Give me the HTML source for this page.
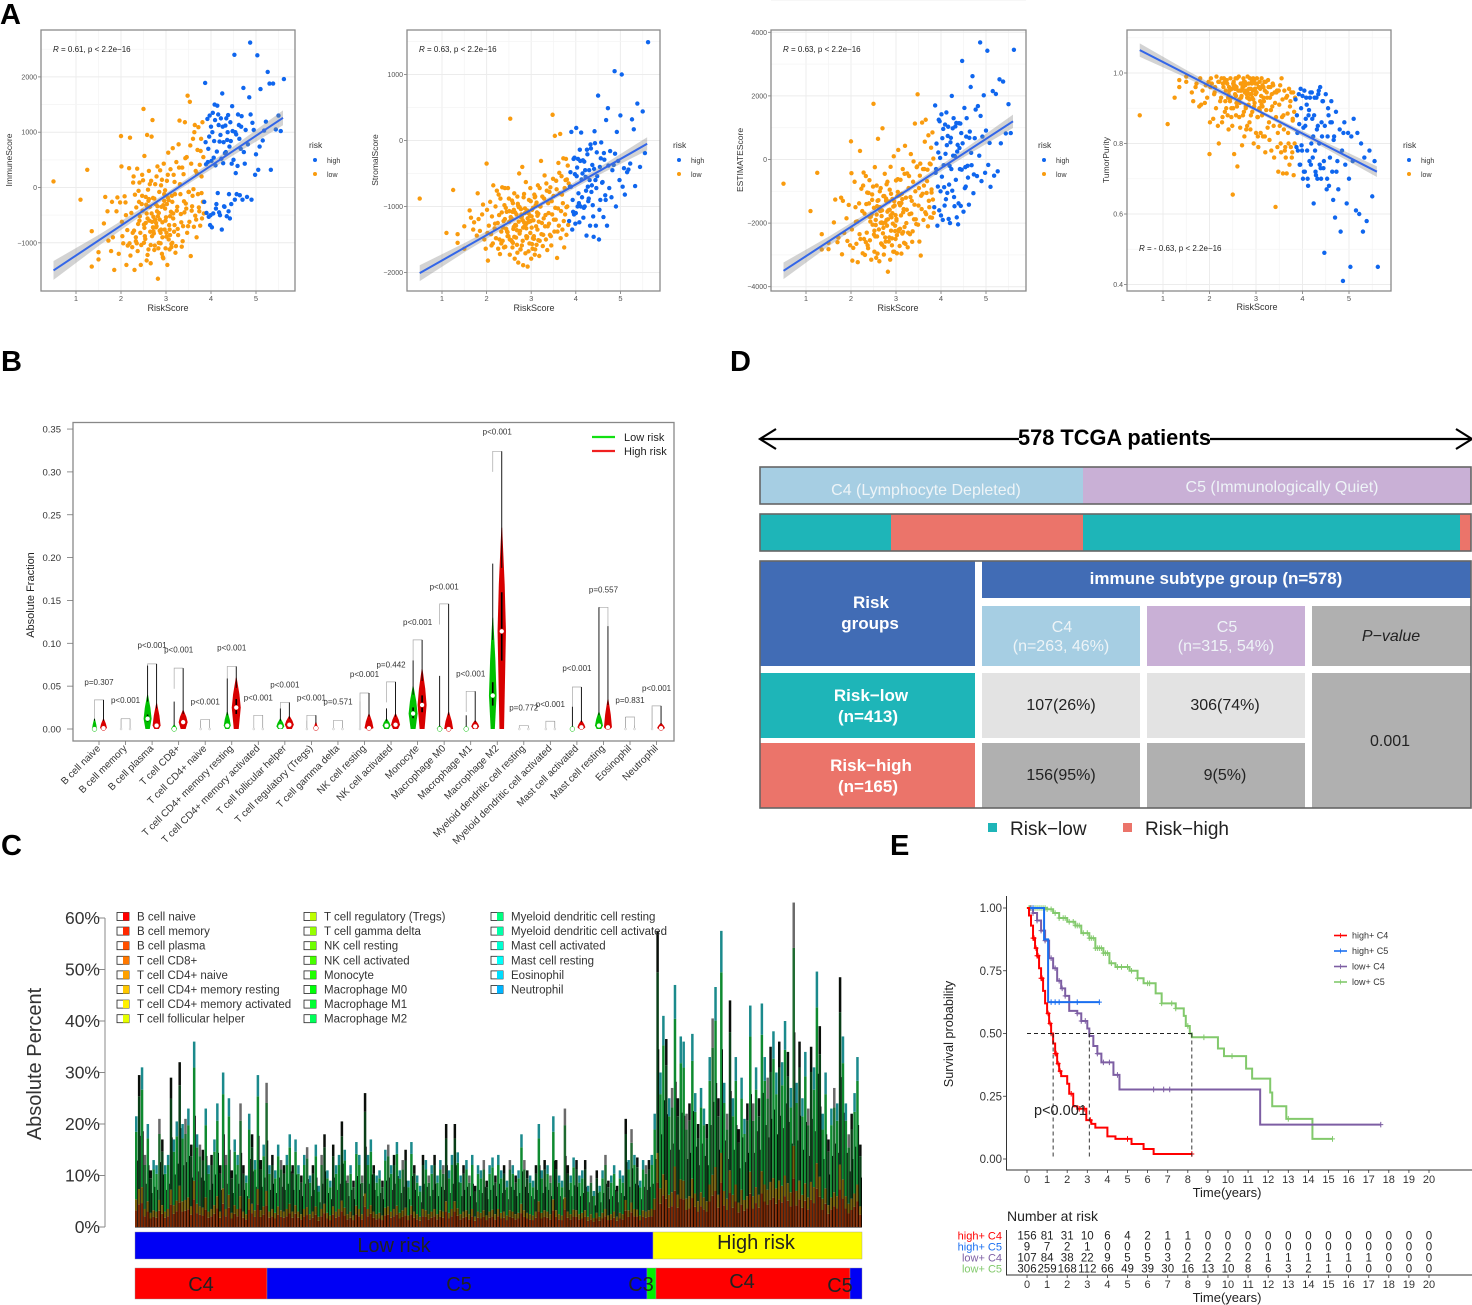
<!DOCTYPE html>
<html lang="en">
<head>
<meta charset="utf-8">
<title>Risk score composite figure</title>
<style>
html,body{margin:0;padding:0;background:#fff;width:1472px;height:1305px;overflow:hidden}
svg{display:block;font-family:"Liberation Sans",sans-serif;filter:blur(.35px)}
.pl{font-weight:bold;font-size:29px;fill:#000}
.w{fill:#eef4f7;text-anchor:middle;font-size:16px}
.wb{fill:#fff;text-anchor:middle;font-size:17px;font-weight:bold}
.d{fill:#222;text-anchor:middle;font-size:16px}
</style>
</head>
<body>
<svg id="figure" xmlns="http://www.w3.org/2000/svg" width="1472" height="1305" viewBox="0 0 1472 1305">
<rect width="1472" height="1305" fill="#fff"/>
<text class="pl" x="0" y="24">A</text>
<text class="pl" x="1" y="371">B</text>
<text class="pl" x="1" y="855">C</text>
<text class="pl" x="730" y="371">D</text>
<text class="pl" x="890" y="855">E</text>

<g id="panelA"></g>
<g id="panelB"></g>
<g id="panelC"></g>

<g id="panelD">
  <line x1="762" y1="439" x2="1019" y2="439" stroke="#000" stroke-width="2.2"/>
  <path d="M776 429 L760 439 L776 449" fill="none" stroke="#000" stroke-width="2.2"/>
  <line x1="1210" y1="439" x2="1470" y2="439" stroke="#000" stroke-width="2.2"/>
  <path d="M1456 429 L1472 439 L1456 449" fill="none" stroke="#000" stroke-width="2.2"/>
  <text x="1114.5" y="445" text-anchor="middle" font-size="21.8" font-weight="bold" fill="#000">578 TCGA patients</text>

  <rect x="760" y="467" width="323" height="37" fill="#a6cee3"/>
  <rect x="1083" y="467" width="388" height="37" fill="#c9b0d6"/>
  <rect x="760" y="467" width="711" height="37" fill="none" stroke="#666" stroke-width="1.6"/>
  <text class="w" x="926" y="495">C4 (Lymphocyte Depleted)</text>
  <text class="w" x="1282" y="492">C5 (Immunologically Quiet)</text>

  <rect x="760" y="514" width="131" height="37" fill="#1eb5b8"/>
  <rect x="891" y="514" width="192" height="37" fill="#eb746a"/>
  <rect x="1083" y="514" width="377" height="37" fill="#1eb5b8"/>
  <rect x="1460" y="514" width="11" height="37" fill="#eb746a"/>
  <rect x="760" y="514" width="711" height="37" fill="none" stroke="#666" stroke-width="1.6"/>

  <rect x="760" y="561" width="215" height="105" fill="#416cb5"/>
  <rect x="982" y="561" width="489" height="37" fill="#416cb5"/>
  <rect x="982" y="606" width="158" height="60" fill="#a6cee3"/>
  <rect x="1147" y="606" width="158" height="60" fill="#c9b0d6"/>
  <rect x="1312" y="606" width="159" height="60" fill="#b0b0b0"/>
  <rect x="760" y="673" width="215" height="65" fill="#1eb5b8"/>
  <rect x="760" y="743" width="215" height="65" fill="#eb746a"/>
  <rect x="982" y="673" width="158" height="65" fill="#e3e3e3"/>
  <rect x="1147" y="673" width="158" height="65" fill="#e3e3e3"/>
  <rect x="982" y="743" width="158" height="65" fill="#b0b0b0"/>
  <rect x="1147" y="743" width="158" height="65" fill="#b0b0b0"/>
  <rect x="1312" y="673" width="159" height="135" fill="#b0b0b0"/>
  <rect x="760" y="561" width="711" height="247" fill="none" stroke="#666" stroke-width="1.6"/>

  <text class="wb" x="871" y="608">Risk</text>
  <text class="wb" x="870" y="629">groups</text>
  <text class="wb" x="1216" y="584" font-size="16.5">immune subtype group (n=578)</text>
  <text class="w" x="1062" y="632">C4</text>
  <text class="w" x="1061" y="651">(n=263, 46%)</text>
  <text class="w" x="1227" y="632">C5</text>
  <text class="w" x="1226" y="651">(n=315, 54%)</text>
  <text class="d" x="1391" y="641" font-style="italic" font-size="15">P−value</text>
  <text class="wb" x="871" y="701">Risk−low</text>
  <text class="wb" x="868" y="722">(n=413)</text>
  <text class="wb" x="871" y="771">Risk−high</text>
  <text class="wb" x="868" y="792">(n=165)</text>
  <text class="d" x="1061" y="710">107(26%)</text>
  <text class="d" x="1225" y="710">306(74%)</text>
  <text class="d" x="1061" y="780">156(95%)</text>
  <text class="d" x="1225" y="780">9(5%)</text>
  <text class="d" x="1390" y="746">0.001</text>

  <rect x="988" y="823" width="9" height="9" fill="#1eb5b8"/>
  <text x="1010" y="835" font-size="19" fill="#222">Risk−low</text>
  <rect x="1123" y="823" width="9" height="9" fill="#eb746a"/>
  <text x="1145" y="835" font-size="19" fill="#222">Risk−high</text>
</g>

<g id="panelE"></g>
</svg>

<script>
/* ---------- Panel A data ---------- */
const riskScore=[0.50,1.10,1.25,1.35,1.35,1.50,1.50,1.62,1.65,1.70,1.72,1.78,1.80,1.82,1.85,1.90,1.92,1.95,1.98,2.00,
2.01,2.03,2.05,2.08,2.10,2.12,2.14,2.15,2.18,2.20,2.21,2.23,2.25,2.26,2.28,2.30,2.31,2.33,2.35,2.36,
2.38,2.40,2.41,2.42,2.44,2.45,2.47,2.48,2.50,2.51,2.52,2.53,2.55,2.56,2.57,2.58,2.60,2.61,2.62,2.63,
2.65,2.66,2.67,2.68,2.70,2.71,2.72,2.73,2.75,2.76,2.77,2.78,2.80,2.81,2.82,2.83,2.85,2.86,2.87,2.88,
2.90,2.91,2.92,2.93,2.95,2.96,2.97,2.98,3.00,3.01,3.02,3.03,3.05,3.06,3.07,3.08,3.10,3.11,3.12,3.13,
3.15,3.16,3.17,3.18,3.20,3.22,3.23,3.25,3.26,3.28,3.30,3.31,3.33,3.35,3.36,3.38,3.40,3.42,3.43,3.45,
3.47,3.48,3.50,3.52,3.53,3.55,3.56,3.58,3.60,3.61,3.62,3.64,3.65,3.66,3.68,3.70,3.71,3.72,3.74,3.75,
3.76,3.78,3.79,3.80,3.81,3.82,3.83,3.84,
3.85,3.87,3.88,3.90,3.92,3.93,3.95,3.96,3.98,4.00,4.01,4.02,4.04,4.05,4.07,4.08,4.10,4.12,4.14,4.15,
4.17,4.19,4.20,4.22,4.24,4.25,4.27,4.28,4.30,4.32,4.33,4.35,4.37,4.38,4.40,4.42,4.44,4.45,4.47,4.50,
4.52,4.54,4.55,4.57,4.60,4.62,4.64,4.66,4.68,4.70,4.72,4.75,4.77,4.80,4.82,4.85,4.87,4.90,4.92,4.95,
4.98,5.00,5.03,5.05,5.08,5.10,5.15,5.18,5.22,5.26,5.30,5.33,5.38,5.44,5.50,5.55,5.62,
2.02,2.11,2.19,2.27,2.29,2.34,2.37,2.39,2.43,2.46,2.49,2.54,2.59,2.59,2.64,2.64,2.69,2.69,2.74,2.74,
2.79,2.79,2.84,2.84,2.89,2.89,2.94,2.94,2.99,2.99,3.04,3.04,3.09,3.09,3.14,3.14,3.19,3.19,3.21,3.24,
3.27,3.29,3.32,3.34,3.37,3.39,3.41,3.44,3.46,3.49,3.51,3.54,3.57,3.59,3.63,3.67,3.69,3.73,3.77,3.79,
2.55,2.62,2.72,2.82,2.92,3.02,3.12,2.68,2.78,2.88,2.98,3.08,2.52,2.58,2.66,2.76,2.86,2.96,3.06,3.16,
2.33,2.41,2.47,2.51,2.57,2.61,2.71,2.81,2.91,3.01,
3.89,3.94,3.97,3.99,4.03,4.06,4.09,4.11,4.13,4.16,4.18,4.21,4.23,4.26,4.29,4.31,4.34,4.36,4.39,4.41,4.43,4.46,4.48,4.53,4.56,4.59,4.63,4.67,4.73,4.88];
const immuneScore=[110,-220,320,-790,-1430,-1170,-1300,-650,-170,-430,-960,-1150,-260,-900,-1490,-430,-180,-1200,-270,930,
380,-880,-1010,-160,-270,-1400,-770,-1050,350,900,-1230,-460,-1080,-820,200,-1490,-130,-970,-1010,340,
-660,-260,90,-520,-1400,-1040,230,-420,1420,-670,570,-880,-170,-310,-1320,950,-40,-1120,300,-600,
-800,-1370,120,920,1220,-190,-530,-830,-1050,60,-300,-720,-430,380,-1650,-1100,-80,-580,310,-820,
-350,140,-630,-1260,430,-240,-760,-50,-540,-890,120,-1400,630,-230,-680,-1120,330,-440,-1020,-150,
710,-560,230,-800,-120,-1060,460,-350,-750,780,1210,60,-480,-1070,360,-700,-250,1180,530,-380,
-820,1660,-80,-620,1550,-1240,430,-340,880,-30,-710,1130,-510,300,-900,680,-120,1090,-430,410,
-690,880,200,-560,1180,-260,550,-470,
-260,1890,820,-460,1240,460,-530,920,-680,1100,480,-720,1350,-470,840,1500,400,-300,1480,-100,
1130,830,-500,1250,-760,1700,440,820,-350,1120,640,-520,1000,1310,-120,-560,840,-300,1470,500,
2400,1000,260,-120,1320,1130,-140,700,1290,-220,1800,430,1040,-170,780,1630,2620,-220,1170,1040,
230,600,2390,320,740,1780,850,1030,1190,2090,1880,320,1880,1050,1300,1020,1960,
-620,-500,-1010,90,-780,-360,-1150,-60,-820,-300,130,-930,-560,-1220,-350,60,-880,-620,-200,-1130,
-700,200,-1000,-460,-760,40,-1280,-320,-600,-1100,-180,230,-860,-520,-1000,-260,100,-680,-1180,-420,
-860,360,-120,-630,-970,240,-450,-290,550,-700,-80,760,-420,-150,1000,-580,250,-360,660,-100,
-640,-210,-790,-520,-900,-300,-1080,-470,-640,-1010,-380,-760,-730,-340,-1040,-580,-780,-120,-940,-470,
-900,-600,-150,-1000,-470,-240,-720,-340,-1200,-820,
420,700,1300,-500,1000,540,1220,-380,650,1320,-450,950,520,1100,-340,620,1250,860,-430,740,1180,430,1020,-220,960,390,880,1100,640,1320];
const stromalScore=[-880,-1400,-750,-1420,-1550,-1640,-1300,-1060,-1170,-1350,-1240,-1440,-800,-1190,-1370,-1120,-970,-1500,-1640,-350,
-1050,-1820,-1290,-930,-1420,-1150,-1560,-680,-1330,-1000,-1480,-760,-1250,-1640,-1130,-1720,-880,-1380,-710,-1520,
-1220,-980,-720,-1610,-1340,-1080,-1450,-720,-880,-1230,-1730,330,-1510,-1180,-910,-1620,-1340,-1050,-800,-1790,
-1280,-1470,-1120,-1580,-960,-1850,-1230,-500,-1370,-1650,-1040,-1170,-400,-1520,-1890,-860,-1300,-1100,-1710,-630,
-1480,-1060,-1910,-1240,-900,-1560,-1140,-720,-1790,-1320,-1050,-1640,-1210,-1450,-820,-1730,-980,-1300,-1580,-1090,
-680,-1510,-1230,-1750,-1000,-310,-1420,-850,-1600,-1180,-530,-1300,-1500,-760,-1660,-950,-1260,-1430,-710,-1590,
-1120,390,-840,-1380,70,-1200,-610,-1780,-1030,-340,-1290,-800,100,-1480,-540,-1350,-950,-270,-1620,-720,
-1120,-280,-1430,-590,-1000,-380,-1280,-650,
-1220,-700,-480,130,-1350,-900,-280,-1120,-510,-1100,190,-540,-1000,-280,-950,-1240,-310,120,-860,-500,
-1170,-320,-1000,-550,-1440,-140,-700,-920,-450,-1290,-60,-780,-370,-980,-1460,140,-600,-1290,-180,680,
-1500,-400,-900,-30,-630,-1160,-290,-830,310,-1290,490,-720,-160,-860,-450,-370,1050,-1000,130,-310,
-600,380,1000,-700,-420,-820,-480,-440,-350,320,170,-690,560,-400,440,-190,1490,
-1400,-1590,-1260,-820,-1500,-1090,-1320,-1620,-1020,-1380,-1450,-1160,-950,-1550,-1090,-1280,-1700,-850,-1010,-1410,
-1150,-1590,-1240,-810,-1450,-1330,-1100,-1680,-920,-1220,-1480,-1020,-850,-1650,-1140,-1350,-720,-1520,-1000,-1250,
-1430,-880,-1130,-650,-1300,-1100,-780,-1450,-920,-580,-1200,-1020,-740,-1380,-490,-1070,-820,-1220,-600,-1010,
-1200,-1460,-1010,-1320,-1180,-1570,-940,-1360,-1120,-1270,-1400,-860,-1500,-1080,-1290,-1650,-1030,-1230,-1490,-1110,
-1560,-1190,-1390,-1070,-1530,-1310,-990,-1210,-1460,-1150,
-700,-1080,-260,-1260,-410,-800,-140,-1000,-590,-300,-1020,-450,-760,-210,-880,-600,-120,-680,-1150,-430,-40,-720,-540,-1050,-270,-640,-190,-900,-380,-200];
const estimateScore=[-760,-1620,-420,-2350,-2830,-2820,-2620,-1980,-1260,-2600,-2460,-1200,-2980,-1300,-2310,-1850,-2560,-1430,-2700,570,
-430,-3180,-2780,-700,-1500,-2650,-1950,-3230,-1380,270,-2500,-920,-1620,-2950,-410,-1700,-3000,-520,-2300,-1040,
-2790,-1380,-650,-2540,-1800,-3150,-1100,-2050,1750,-1520,-2900,-240,-1900,-3090,-820,-2420,650,-1280,-2200,-3200,
-1620,-900,-2640,-1780,980,-2320,-1150,-2990,-450,-1980,-2580,-1300,-2080,-700,-3530,-1600,-2450,-950,-3150,-230,
-1820,-2700,-1240,-2020,100,-2900,-1450,-2250,-660,-1920,-2950,-1150,300,-2260,-1370,-2720,-640,-1760,-2960,-1080,
-300,-2280,-1560,-2620,430,-1200,-2000,-440,-2760,-900,-1720,-2350,170,-1300,-2590,-700,-1880,1130,-1000,-2030,
-220,2050,-1450,-2580,-510,-3020,-1140,1160,-300,-1900,-820,560,-1660,1250,-1050,-320,-2100,760,-1500,-130,
-1820,370,-940,-1830,850,-1260,30,-1680,
-1500,1700,-420,500,-2080,-850,1250,-1600,50,-1760,1420,-540,-1900,960,-870,-1450,180,1480,-1050,740,
-1870,-200,-2000,680,2000,-980,120,1300,-1470,1040,-640,-1820,460,-2040,1140,-300,-1460,830,3100,-1640,
1620,-240,-850,1300,-570,-1420,880,2280,-180,2620,-1060,670,1570,-520,1680,120,3680,-680,720,2020,
-420,910,3420,-170,520,-860,2150,-510,2060,-370,2520,510,2450,820,1740,830,3450,
-2200,-1960,-2350,-820,-2500,-1400,-2700,-1050,-1950,-1720,-850,-2420,-1300,-2960,-1500,-1000,-2680,-1600,-1150,-2750,
-1900,-780,-2580,-1320,-2240,-1080,-2900,-1480,-1750,-2500,-1020,-620,-2180,-1440,-2330,-1250,-450,-2120,-2650,-1580,
-2300,-520,-1180,-1700,-2260,-60,-1420,-1880,-240,-2050,-900,-130,-1560,-1080,-300,-1720,-680,-1300,-150,-1040,
-2060,-1510,-2150,-1880,-1690,-2380,-1370,-1980,-1230,-1760,-2080,-1130,-2240,-1470,-1990,-2450,-1580,-1310,-2210,-1660,
-2600,-1800,-1270,-2360,-1730,-1510,-2010,-1640,-2480,-1870,
-300,220,1200,-1000,670,-180,1100,-1250,450,1030,-790,540,-300,980,-1180,110,1150,250,-1380,360,1130,-320,510,-900,720,-200,680,210,-470,1370];
const tumorPurity=[.88,.855,.93,.98,.96,.99,.975,.945,.92,.96,.97,.905,.985,.91,.95,.915,.965,.93,.975,.77,
.86,.985,.97,.87,.94,.96,.90,.99,.85,.80,.975,.92,.93,.985,.875,.96,.985,.89,.95,.90,
.97,.93,.84,.96,.92,.985,.875,.955,.655,.90,.975,.77,.94,.985,.88,.96,.735,.92,.95,.99,
.915,.845,.97,.93,.795,.96,.88,.985,.82,.945,.965,.905,.94,.85,.99,.93,.955,.86,.985,.84,
.94,.97,.89,.95,.80,.98,.915,.955,.83,.945,.985,.875,.79,.96,.90,.975,.83,.935,.985,.88,
.82,.96,.92,.975,.775,.895,.945,.845,.98,.86,.93,.96,.78,.905,.97,.85,.945,.62,.875,.95,
.83,.72,.91,.965,.80,.985,.875,.715,.84,.95,.78,.76,.93,.715,.885,.80,.955,.74,.92,.79,
.945,.775,.865,.945,.71,.89,.80,.93,
.925,.79,.88,.78,.94,.855,.74,.955,.795,.935,.70,.845,.95,.72,.87,.93,.78,.68,.895,.75,
.945,.80,.945,.76,.63,.88,.78,.72,.93,.70,.85,.95,.74,.96,.70,.82,.92,.73,.49,.94,
.67,.82,.90,.68,.86,.92,.72,.64,.82,.59,.89,.75,.67,.84,.55,.78,.41,.86,.74,.63,
.83,.70,.45,.82,.75,.87,.61,.83,.60,.80,.55,.76,.58,.78,.65,.75,.45,
.96,.945,.975,.86,.97,.92,.98,.88,.95,.93,.85,.965,.905,.985,.925,.875,.97,.935,.89,.975,
.95,.84,.97,.91,.955,.88,.985,.925,.94,.97,.875,.82,.955,.92,.965,.905,.82,.95,.975,.93,
.96,.81,.895,.94,.965,.76,.915,.945,.79,.95,.85,.775,.925,.88,.79,.935,.83,.905,.76,.87,
.955,.92,.96,.945,.93,.97,.91,.95,.90,.94,.955,.895,.965,.915,.95,.975,.925,.905,.96,.93,
.975,.94,.90,.97,.935,.92,.955,.93,.975,.945,
.83,.74,.90,.78,.72,.85,.91,.70,.88,.93,.74,.87,.82,.93,.71,.84,.94,.80,.73,.86,.92,.75,.85,.70,.88,.76,.86,.81,.72,.83];
const riskCutoff=3.85;
const scatterTicksX=[1,2,3,4,5];
const immuneTicks=[-1000,0,1000,2000];
const stromalTicks=[-2000,-1000,0,1000];
const estimateTicks=[-4000,-2000,0,2000,4000];
const purityTicks=[0.4,0.6,0.8,1.0];
const fitX=[0.5,5.6];
const immuneFit=[-1500,1260];
const stromalFit=[-2010,-50];
const estimateFit=[-3500,1200];
const purityFit=[1.065,0.72];
const bandX=[0.5,1.5,3,4.5,5.6];
const immuneBand=[170,100,45,80,135];
const stromalBand=[120,70,30,55,100];
const estimateBand=[260,150,70,120,210];
const purityBand=[0.019,0.011,0.005,0.009,0.015];

/* ---------- Panel B data ---------- */
const cellTypes=["B cell naive","B cell memory","B cell plasma","T cell CD8+","T cell CD4+ naive","T cell CD4+ memory resting","T cell CD4+ memory activated","T cell follicular helper","T cell regulatory (Tregs)","T cell gamma delta","NK cell resting","NK cell activated","Monocyte","Macrophage M0","Macrophage M1","Macrophage M2","Myeloid dendritic cell resting","Myeloid dendritic cell activated","Mast cell activated","Mast cell resting","Eosinophil","Neutrophil"];
const pLabels=["p=0.307","p<0.001","p<0.001","p<0.001","p<0.001","p<0.001","p<0.001","p<0.001","p<0.001","p=0.571","p<0.001","p=0.442","p<0.001","p<0.001","p<0.001","p<0.001","p=0.772","p<0.001","p<0.001","p=0.557","p=0.831","p<0.001"];
const pLabelValue=[.055,.034,.098,.093,.032,.095,.037,.052,.037,.032,.064,.075,.125,.166,.065,.347,.025,.029,.071,.163,.034,.048];
const lowMax=[.012,.012,.074,.032,.010,.059,.001,.024,.010,.001,.032,.024,.080,.062,.016,.193,.001,.001,.026,.142,.014,.025];
const highMax=[.034,.012,.076,.071,.011,.073,.016,.031,.016,.010,.042,.055,.104,.146,.044,.324,.004,.009,.049,.120,.004,.027];
const lowMedian=[0,0,.012,0,0,.004,0,.003,0,0,0,.004,.018,0,0,.039,0,0,0,.004,0,0];
const highMedian=[.001,0,.004,.008,0,.025,0,.005,.001,0,.001,.005,.028,0,.003,.114,0,0,.002,.002,0,.001];
const lowBody=[.012,0,.040,.005,0,.020,0,.012,0,0,0,.012,.050,.004,.001,.130,0,0,.001,.020,0,0];
const highBody=[.012,0,.030,.022,0,.060,0,.015,.008,0,.018,.018,.070,.020,.010,.235,0,0,.010,.035,0,.007];
const lowWidth=[2.5,0,4,3,0,3.5,0,4,0,0,0,4,4.5,3,1,3.8,0,0,1,4,0,0];
const highWidth=[3.5,0,4,4.5,0,4.5,0,4.5,2,0,4.5,4.5,4.5,4.5,4,4.2,0,0,4,4,0,4];
const violinTicks=[0,.05,.10,.15,.20,.25,.30,.35];

/* ---------- Panel C data ---------- */
const barTotals=[21.5,29.5,31,14,20,11,13,12,21,17,12,14,29,17,20.5,32,20,21,23,16,36,18,16,15,23,12,14,17,24,12,30,14,25,11,17,14,24,12,10,22,18,13,29.5,13,16,28,12,14,11,16,
13,12,14,18,12,17,12,10,14,15.5,10,12,16,8,14,18,11,9,16,12,14,20.5,15,10,12,9,16.5,14,10,26,14,17,12,10,11,9,15,16,12,14,16.5,11,13,15,9,16.5,12,10,8,14,
13,10,12,14,10,13,12,20,11,14,20,14.5,10,12,13,10,14,8,12,11,
13,9,12,13.5,10,14,11,12,9,13,12,10,11,18,13,11,10,9,12,20,
11,13,12,10,21.5,13,10,9,23,12,10,13.5,13,10,11,13,8,10,7,11,
8,11,14,9,10,12,8,11,10,21,13,19,14,13.5,9,13,12,13,14,
22,57.5,30,41,36.5,25,27,47,25,37,36,22,24,37.5,26,20,27,23,20,33,40.5,46.6,25,57.5,28,22,44,25,33,19,29,21,24,43,24,31,25,43.4,33,29,35,38,30,36,32,40,34,27,63,28,36,25,34,23,35,31,49.6,39,22,30,17,23,27,24,48.5,37,24,18,22,26,33,16];
const layerShares=[.15,.1,.61,.14];
const percentTicks=[0,10,20,30,40,50,60];
const legendLabels=["B cell naive","B cell memory","B cell plasma","T cell CD8+","T cell CD4+ naive","T cell CD4+ memory resting","T cell CD4+ memory activated","T cell follicular helper","T cell regulatory (Tregs)","T cell gamma delta","NK cell resting","NK cell activated","Monocyte","Macrophage M0","Macrophage M1","Macrophage M2","Myeloid dendritic cell resting","Myeloid dendritic cell activated","Mast cell activated","Mast cell resting","Eosinophil","Neutrophil"];

/* ---------- Panel E data ---------- */
const redTime=[0,.1,.2,.3,.4,.5,.6,.7,.8,.9,1,1.1,1.2,1.3,1.4,1.5,1.6,1.7,2,2.1,2.3,2.5,2.95,3.2,3.4,4,4.4,5.2,5.8,6.3,8.2];
const redSurv=[1,.97,.93,.88,.84,.81,.76,.72,.67,.62,.58,.54,.5,.46,.42,.38,.35,.33,.3,.26,.21,.2,.155,.14,.125,.09,.08,.06,.04,.02,.02];
const blueTime=[0,.85,1.05,3.6];
const blueSurv=[1,.875,.625,.625];
const purpleTime=[0,.3,.5,.7,.9,1.1,1.3,1.5,1.7,1.9,2.1,2.5,2.7,3,3.1,3.3,3.5,3.7,4.3,4.6,11.6,17.6];
const purpleSurv=[1,.98,.95,.91,.87,.8,.76,.71,.68,.65,.59,.58,.55,.52,.49,.45,.42,.385,.335,.277,.137,.137];
const greenTime=[0,1,1.3,1.6,2,2.4,2.7,3.1,3.4,3.8,4.1,4.4,5.1,5.5,5.8,6.4,6.7,7.4,7.8,7.9,8.1,8.2,9.5,9.8,10.9,11.2,12.1,12.2,12.9,14.2,15.2];
const greenSurv=[1,.995,.98,.96,.945,.93,.9,.88,.84,.82,.78,.765,.75,.72,.7,.66,.62,.6,.57,.53,.5,.485,.44,.41,.36,.32,.265,.21,.16,.08,.08];
const redCensor=[.3,.35,.45,.5,.55,.7,.75,1.05,1.15,1.2,1.4,1.45,1.55,1.65,2.2,2.6,2.85,3.15,5,8.2];
const blueCensor=[.3,1.2,1.4,1.6,2.5,3.6];
const purpleCensor=[.2,.3,.5,.7,.9,1.2,1.4,1.6,1.75,1.9,2.5,2.7,2.9,3.5,3.8,4.1,4.5,6.3,6.8,7.1,17.6];
const greenCensor=[.1,.15,.2,.3,.4,.5,.6,.7,.8,.9,1,1.2,1.4,1.6,1.8,1.9,2.1,2.3,2.4,2.5,2.6,2.8,3,3.1,3.2,3.3,3.4,3.5,3.6,3.7,3.8,3.9,4,4.2,4.5,4.7,5,5.2,5.5,6,6.1,6.7,7.2,7.4,8,8.8,10.2,13,15.2];
const medianTimes=[1.3,3.1,8.2];
const survivalYTicks=[0,.25,.5,.75,1];
const yearTicks=[0,1,2,3,4,5,6,7,8,9,10,11,12,13,14,15,16,17,18,19,20];
const strataLabels=["high+ C4","high+ C5","low+ C4","low+ C5"];
const atRiskHighC4=[156,81,31,10,6,4,2,1,1,0,0,0,0,0,0,0,0,0,0,0,0];
const atRiskHighC5=[9,7,2,1,0,0,0,0,0,0,0,0,0,0,0,0,0,0,0,0,0];
const atRiskLowC4=[107,84,38,22,9,5,5,3,2,2,2,2,1,1,1,1,1,1,0,0,0];
const atRiskLowC5=[306,259,168,112,66,49,39,30,16,13,10,8,6,3,2,1,0,0,0,0,0];

/* ---------- helpers ---------- */
const NS="http://www.w3.org/2000/svg";
function mk(parent,tag,attrs,text){
  const el=document.createElementNS(NS,tag);
  for(const k in attrs) el.setAttribute(k,attrs[k]);
  if(text!==undefined) el.textContent=text;
  parent.appendChild(el);
  return el;
}
function fmtMinus(v){return String(v).replace("-","−");}

/* ---------- Panel A ---------- */
function drawScatter(cfg){
  const g=mk(document.getElementById("panelA"),"g",{});
  
  
  const X=v=>cfg.x1+(v-1)*cfg.dx;
  const Y=v=>cfg.y0+(v-cfg.v0)*cfg.sy;
  const f=cfg.frame;
  for(const t of scatterTicksX){
    const gl=mk(g,"line",{x1:X(t),x2:X(t),y1:f[1],y2:f[3],stroke:"#ececec","stroke-width":1});
    
    
    const gm=mk(g,"line",{x1:X(t+.5),x2:X(t+.5),y1:f[1],y2:f[3],stroke:"#f5f5f5","stroke-width":.8});
    
    
    const tk=mk(g,"line",{x1:X(t),x2:X(t),y1:f[3],y2:f[3]+3,stroke:"#777","stroke-width":.8});
    
    
    const lb=mk(g,"text",{x:X(t),y:f[3]+10,"font-size":7.5,fill:"#555","text-anchor":"middle"},t);
    
    
  }
  const step=cfg.ticks[1]-cfg.ticks[0];
  cfg.ticks.forEach(t=>{
    const gl=mk(g,"line",{x1:f[0],x2:f[2],y1:Y(t),y2:Y(t),stroke:"#ececec","stroke-width":1});
    
    
    const gm=mk(g,"line",{x1:f[0],x2:f[2],y1:Y(t+step/2),y2:Y(t+step/2),stroke:"#f5f5f5","stroke-width":.8});
    
    
    const tk=mk(g,"line",{x1:f[0]-3,x2:f[0],y1:Y(t),y2:Y(t),stroke:"#777","stroke-width":.8});
    
    
    const lb=mk(g,"text",{x:f[0]-4,y:Y(t)+2.5,"font-size":7,fill:"#555","text-anchor":"end"},cfg.tickFmt(t));
    
    
  });
  const fr=mk(g,"rect",{x:f[0],y:f[1],width:f[2]-f[0],height:f[3]-f[1],fill:"none",stroke:"#8a8a8a","stroke-width":1.3});
  
  
  riskScore.forEach((r,i)=>{
    const v=cfg.values[i];
    if(v===undefined) return;
    const c=mk(g,"circle",{cx:X(r),cy:Y(v),r:2.2,fill:r>=riskCutoff?"#0f66ee":"#f99b0e"});
    
    
  });
  const interp=x=>cfg.fit[0]+(x-fitX[0])/(fitX[1]-fitX[0])*(cfg.fit[1]-cfg.fit[0]);
  const up=bandX.map((x,i)=>X(x)+","+Y(interp(x)+cfg.band[i]));
  const dn=bandX.map((x,i)=>X(x)+","+Y(interp(x)-cfg.band[i])).reverse();
  const band=mk(g,"polygon",{points:up.concat(dn).join(" "),fill:"#8c8c8c","fill-opacity":.38});
  
  
  const ln=mk(g,"line",{x1:X(fitX[0]),y1:Y(cfg.fit[0]),x2:X(fitX[1]),y2:Y(cfg.fit[1]),stroke:"#3366e8","stroke-width":2});
  
  
  const rt=mk(g,"text",{x:cfg.rx,y:cfg.ry,"font-size":8,fill:"#222"});
  
  
  const ri=mk(rt,"tspan",{"font-style":"italic"},"R");
  
  
  const rr=mk(rt,"tspan",{},cfg.rText);
  
  
  const xt=mk(g,"text",{x:cfg.xtx,y:cfg.xty,"font-size":9,fill:"#333","text-anchor":"middle"},"RiskScore");
  
  
  const yt=mk(g,"text",{transform:`translate(${cfg.ytx},160) rotate(-90)`,"font-size":8.5,fill:"#333","text-anchor":"middle"},cfg.title);
  
  
  const lt=mk(g,"text",{x:cfg.lx,y:148,"font-size":8.5,fill:"#333"},"risk");
  
  
  const hd=mk(g,"circle",{cx:cfg.lx+6,cy:160,r:2,fill:"#0f66ee"});
  
  
  const ht=mk(g,"text",{x:cfg.lx+18,y:163,"font-size":7,fill:"#333"},"high");
  
  
  const ld=mk(g,"circle",{cx:cfg.lx+6,cy:174,r:2,fill:"#f99b0e"});
  
  
  const lo=mk(g,"text",{x:cfg.lx+18,y:177,"font-size":7,fill:"#333"},"low");
  
  
}
drawScatter({key:"immune",values:immuneScore,ticks:immuneTicks,fit:immuneFit,band:immuneBand,frame:[41,30,295,291],x1:76,dx:45,y0:187.5,v0:0,sy:-.0553,tickFmt:fmtMinus,rx:53,ry:52,rText:" = 0.61, p < 2.2e−16",xtx:168,xty:311,ytx:12,lx:309,title:"ImmuneScore"});
drawScatter({key:"stromal",values:stromalScore,ticks:stromalTicks,fit:stromalFit,band:stromalBand,frame:[407,30,660,291],x1:442,dx:44.6,y0:140.5,v0:0,sy:-.066,tickFmt:fmtMinus,rx:419,ry:52,rText:" = 0.63, p < 2.2e−16",xtx:534,xty:311,ytx:378,lx:673,title:"StromalScore"});
drawScatter({key:"estimate",values:estimateScore,ticks:estimateTicks,fit:estimateFit,band:estimateBand,frame:[771,30,1026,291],x1:806,dx:45,y0:159.5,v0:0,sy:-.0318,tickFmt:fmtMinus,rx:783,ry:52,rText:" = 0.63, p < 2.2e−16",xtx:898,xty:311,ytx:743,lx:1038,title:"ESTIMATEScore"});
drawScatter({key:"purity",values:tumorPurity,ticks:purityTicks,fit:purityFit,band:purityBand,frame:[1127,30,1391,291],x1:1163,dx:46.5,y0:284.5,v0:.4,sy:-352.5,tickFmt:v=>v.toFixed(1),rx:1139,ry:251,rText:" = - 0.63, p < 2.2e−16",xtx:1257,xty:310,ytx:1109,lx:1403,title:"TumorPurity"});

/* ---------- Panel B ---------- */
(function(){
  const g=document.getElementById("panelB");
  const Y=v=>729-v*857;
  const cx=i=>99+i*26.55;
  const fr=mk(g,"rect",{x:73,y:422.5,width:601,height:318.5,fill:"none",stroke:"#888","stroke-width":1.3});
  
  
  violinTicks.forEach(t=>{
    const tk=mk(g,"line",{x1:67,x2:73,y1:Y(t),y2:Y(t),stroke:"#777","stroke-width":.8});
    
    
    const lb=mk(g,"text",{x:61,y:Y(t)+3.5,"font-size":9.5,fill:"#333","text-anchor":"end"},t.toFixed(2));
    
    
  });
  const yt=mk(g,"text",{transform:"translate(34,595) rotate(-90)","font-size":11,fill:"#222","text-anchor":"middle"},"Absolute Fraction");
  
  
  function violin(x,max,med,body,w,col,name){
    if(w>0){
      const m2=med+(body-med)*.45;
      const pts=[[x-w*.55,0],[x-w,med],[x-w*.7,m2],[x-.4,body],[x+.4,body],[x+w*.7,m2],[x+w,med],[x+w*.55,0]].map(p=>p[0]+","+Y(p[1])).join(" ");
      const b=mk(g,"polygon",{points:pts,fill:col});
      
      
    }
    const l=mk(g,"line",{x1:x,x2:x,y1:w>0?Y(body*.8):Y(0),y2:Y(max),stroke:"#000","stroke-width":w>0?.9:.5,"stroke-opacity":w>0?1:.6});
    
    
    if(med>.01){
      const q=mk(g,"line",{x1:x,x2:x,y1:Y(med*.7),y2:Y(med*1.4),stroke:"#000","stroke-width":1.6});
      
      
    }
    const d=mk(g,"circle",{cx:x,cy:Y(med),r:w>0?2.4:1,fill:"#fff",stroke:w>0?col:"#bbb","stroke-width":.5});
    
    
  }
  cellTypes.forEach((c,i)=>{
    const x=cx(i),xl=x-4.5,xh=x+4.5,top=Math.max(lowMax[i],highMax[i]);
    const legL=Math.min(top-lowMax[i],.024),legR=Math.min(top-highMax[i],.024);
    const br=mk(g,"path",{d:`M${xl} ${Y(top-legL)}V${Y(top)}H${xh}V${Y(top-legR)}`,fill:"none",stroke:"#a8a8a8","stroke-width":.7});
    
    
    violin(xl,lowMax[i],lowMedian[i],lowBody[i],lowWidth[i],"#00c000","low-risk");
    violin(xh,highMax[i],highMedian[i],highBody[i],highWidth[i],"#d80000","high-risk");
    const p=mk(g,"text",{x:x,y:Y(pLabelValue[i])+3,"font-size":8,fill:"#333","text-anchor":"middle"},pLabels[i]);
    
    
    const tk=mk(g,"line",{x1:x,x2:x,y1:741,y2:745,stroke:"#777","stroke-width":.8});
    
    
    const lb=mk(g,"text",{transform:`translate(${x+2},749) rotate(-45)`,"font-size":10,fill:"#333","text-anchor":"end"},c);
    
    
  });
  const l1=mk(g,"line",{x1:592,x2:615,y1:437,y2:437,stroke:"#12e012","stroke-width":2.2});
  
  
  const t1=mk(g,"text",{x:624,y:441,"font-size":11,fill:"#222"},"Low risk");
  
  
  const l2=mk(g,"line",{x1:592,x2:615,y1:451,y2:451,stroke:"#f02020","stroke-width":2.2});
  
  
  const t2=mk(g,"text",{x:624,y:455,"font-size":11,fill:"#222"},"High risk");
  
  
})();

/* ---------- Panel C ---------- */
(function(){
  const g=document.getElementById("panelC");
  const Y=v=>1227-v*5.15;
  const X0=135,X1=862;
  const step=(X1-X0)/barTotals.length;
  const layerColours=["#7e2a05","#75600a","#0e8a30","#1b8a8c"];
  const tones=[1,0,1,2,1,0,1,1,2,0,1,1,0,1];
  barTotals.forEach((v,i)=>{
    const tone=tones[i%tones.length];
    let acc=0;
    layerShares.forEach((s,k)=>{
      const y1=Y(acc*v),y2=Y((acc+s)*v);
      let col=layerColours[k];
      if(tone===0&&k===3) col="#0a0f0a";
      if(tone===0&&k===2) col="#0a3f18";
      if(tone===2&&k===3) col="#6a6a6a";
      if(tone===2&&k===2) col="#1f6a30";
      const r=mk(g,"rect",{x:X0+i*step,y:y2,width:step-.4,height:y1-y2,fill:col});
      
      
      acc+=s;
    });
    const e=mk(g,"rect",{x:X0+i*step+step-.8,y:Y(v*.6),width:.8,height:Y(0)-Y(v*.6),fill:"#000"});
    
    
  });
  const base=mk(g,"line",{x1:X0,x2:X1,y1:1227.5,y2:1227.5,stroke:"#888","stroke-width":1});
  
  
  const ax=mk(g,"line",{x1:105,x2:105,y1:Y(60),y2:Y(0),stroke:"#888","stroke-width":1});
  
  
  percentTicks.forEach(t=>{
    const tk=mk(g,"line",{x1:98,x2:105,y1:Y(t),y2:Y(t),stroke:"#888","stroke-width":1});
    
    
    const lb=mk(g,"text",{x:100,y:Y(t)+6,"font-size":17.5,fill:"#333","text-anchor":"end"},t+"%");
    
    
  });
  const yt=mk(g,"text",{transform:"translate(41,1064) rotate(-90)","font-size":20,fill:"#333","text-anchor":"middle"},"Absolute Percent");
  
  
  legendLabels.forEach((lab,i)=>{
    const col=Math.min(Math.floor(i/8),2),row=i-col*8;
    const lx=117+col*187,ly=916.5+row*14.6;
    const q=mk(g,"rect",{x:lx,y:ly-4,width:12,height:8,fill:"#fff",stroke:"#222","stroke-width":.8});
    
    
    const c=mk(g,"rect",{x:lx+6,y:ly-4,width:6,height:8,fill:`hsl(${i*9.4},100%,50%)`});
    
    
    const t=mk(g,"text",{x:lx+20,y:ly+4,"font-size":11.5,fill:"#333"},lab);
    
    
  });
  function band(x1,x2,y,h,col,name){
    const r=mk(g,"rect",{x:x1,y:y,width:x2-x1,height:h,fill:col,stroke:"#999","stroke-width":.4});
    
    
  }
  function label(x,y,txt,name){
    const t=mk(g,"text",{x:x,y:y,"font-size":20,fill:"#222","text-anchor":"middle"},txt);
    
    
  }
  band(135,653,1232,27,"#0000f5","low-risk-band");
  band(653,862,1232,27,"#ffff00","high-risk-band");
  label(394,1252,"Low risk","low-risk-label");
  label(756,1249,"High risk","high-risk-label");
  band(135,267,1268,31,"#ff0000","c4-low-band");
  band(267,647,1268,31,"#0000f5","c5-low-band");
  band(647,656,1268,31,"#00f000","c3-band");
  band(656,850,1268,31,"#ff0000","c4-high-band");
  band(850,862,1268,31,"#0000f5","c5-high-band");
  label(201,1291,"C4","c4-low-label");
  label(459,1291,"C5","c5-low-label");
  label(641,1291,"C3","c3-label");
  label(742,1288,"C4","c4-high-label");
  label(840,1292,"C5","c5-high-label");
})();

/* ---------- Panel E ---------- */
(function(){
  const g=document.getElementById("panelE");
  const X=t=>1027+t*20.1;
  const Y=s=>1159-s*251;
  const ax=mk(g,"path",{d:"M1006.5 896V1170H1472",fill:"none",stroke:"#333","stroke-width":1});
  
  
  survivalYTicks.forEach(s=>{
    const tk=mk(g,"line",{x1:1003,x2:1006,y1:Y(s),y2:Y(s),stroke:"#333","stroke-width":.8});
    
    
    const lb=mk(g,"text",{x:1002,y:Y(s)+4,"font-size":11.5,fill:"#333","text-anchor":"end"},s.toFixed(2));
    
    
  });
  yearTicks.forEach(t=>{
    const tk=mk(g,"line",{x1:X(t),x2:X(t),y1:1170,y2:1173,stroke:"#333","stroke-width":.8});
    
    
    const lb=mk(g,"text",{x:X(t),y:1183,"font-size":11,fill:"#333","text-anchor":"middle"},t);
    
    
    const tk2=mk(g,"line",{x1:X(t),x2:X(t),y1:1275,y2:1278,stroke:"#333","stroke-width":.8});
    
    
    const lb2=mk(g,"text",{x:X(t),y:1288,"font-size":11,fill:"#333","text-anchor":"middle"},t);
    
    
  });
  const xt=mk(g,"text",{x:1227,y:1197,"font-size":13,fill:"#222","text-anchor":"middle"},"Time(years)");
  
  
  const yt=mk(g,"text",{transform:"translate(953,1034) rotate(-90)","font-size":12.7,fill:"#222","text-anchor":"middle"},"Survival probability");
  
  
  const survColours=["#ff0000","#1a6ff0","#7d5ea3","#82c96c"];
  const survTimes=[redTime,blueTime,purpleTime,greenTime];
  const survVals=[redSurv,blueSurv,purpleSurv,greenSurv];
  const censors=[redCensor,blueCensor,purpleCensor,greenCensor];
  [3,2,1,0].forEach(k=>{
    const T=survTimes[k],S=survVals[k];
    let d=`M${X(T[0])} ${Y(S[0])}`;
    for(let i=1;i<T.length;i++) d+=`H${X(T[i])}V${Y(S[i])}`;
    const p=mk(g,"path",{d:d,fill:"none",stroke:survColours[k],"stroke-width":2});
    
    
    censors[k].forEach(t=>{
      let s=S[0];
      for(let i=0;i<T.length&&T[i]<=t;i++) s=S[i];
      const c=mk(g,"path",{d:`M${X(t)-2.5} ${Y(s)}h5M${X(t)} ${Y(s)-2.8}v5.6`,stroke:survColours[k],"stroke-width":1,fill:"none"});
      
      
    });
  });
  const hd=mk(g,"line",{x1:X(0),x2:X(medianTimes[2]),y1:Y(.5),y2:Y(.5),stroke:"#222","stroke-width":.9,"stroke-dasharray":"4 3"});
  
  
  medianTimes.forEach(t=>{
    const v=mk(g,"line",{x1:X(t),x2:X(t),y1:Y(.5),y2:Y(0),stroke:"#222","stroke-width":.9,"stroke-dasharray":"4 3"});
    
    
  });
  const pv=mk(g,"text",{x:1034,y:1115,"font-size":14.5,fill:"#222"},"p<0.001");
  
  
  strataLabels.forEach((s,i)=>{
    const y=935.5+i*15.5;
    const l=mk(g,"line",{x1:1334,x2:1347,y1:y,y2:y,stroke:survColours[i],"stroke-width":1.6});
    
    
    const c=mk(g,"path",{d:`M1340.5 ${y-2.5}v5`,stroke:survColours[i],"stroke-width":.8});
    
    
    const t=mk(g,"text",{x:1352,y:y+3,"font-size":9,fill:"#333"},s);
    
    
  });
  const tt=mk(g,"text",{x:1007,y:1221,"font-size":14,fill:"#222"},"Number at risk");
  
  
  const ax2=mk(g,"path",{d:"M1006.5 1230V1275H1472",fill:"none",stroke:"#333","stroke-width":1});
  
  
  const rows=[atRiskHighC4,atRiskHighC5,atRiskLowC4,atRiskLowC5];
  rows.forEach((row,k)=>{
    const y=1239.5+k*11;
    const lb=mk(g,"text",{x:1002,y:y,"font-size":11,fill:survColours[k],"text-anchor":"end"},strataLabels[k]);
    
    
    row.forEach((n,i)=>{
      const t=mk(g,"text",{x:X(yearTicks[i]),y:y,"font-size":11.5,fill:"#222","text-anchor":"middle"},n);
      
      
    });
  });
  const xt2=mk(g,"text",{x:1227,y:1302,"font-size":13,fill:"#222","text-anchor":"middle"},"Time(years)");
  
  
})();
</script>
</body>
</html>
